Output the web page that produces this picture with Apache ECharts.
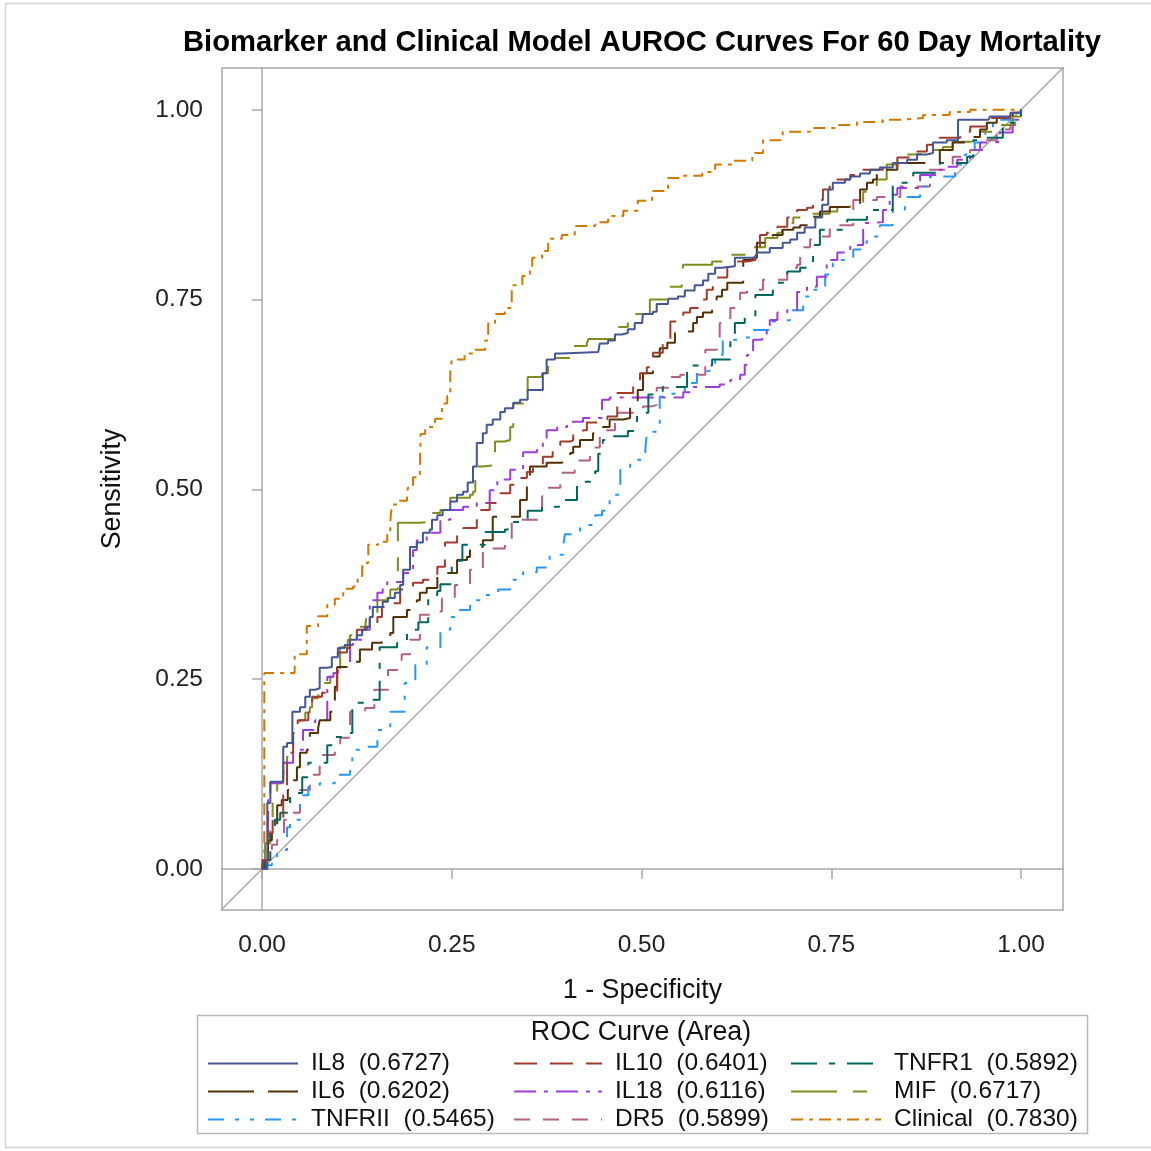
<!DOCTYPE html>
<html>
<head>
<meta charset="utf-8">
<script src="https://cdn.jsdelivr.net/npm/echarts@6/dist/echarts.min.js"></script>
<style>html,body{margin:0;padding:0;background:#fff}#c{width:1151px;height:1151px}</style>
</head>
<body>
<div id="c"></div>
<script>
// ---- data (1 - specificity, sensitivity) ----
const il8 = [[0,0],[0.007,0.087],[0.011,0.115],[0.020,0.115],[0.028,0.161],[0.033,0.166],[0.040,0.207],[0.050,0.213],[0.057,0.227],[0.063,0.236],[0.070,0.238],[0.076,0.265],[0.086,0.266],[0.092,0.279],[0.100,0.291],[0.109,0.295],[0.116,0.302],[0.125,0.308],[0.132,0.315],[0.138,0.319],[0.142,0.332],[0.146,0.345],[0.159,0.352],[0.166,0.357],[0.175,0.364],[0.182,0.374],[0.186,0.394],[0.195,0.424],[0.204,0.430],[0.212,0.443],[0.221,0.447],[0.224,0.460],[0.231,0.466],[0.238,0.473],[0.248,0.484],[0.257,0.493],[0.265,0.497],[0.271,0.509],[0.278,0.530],[0.283,0.561],[0.291,0.574],[0.296,0.585],[0.304,0.592],[0.314,0.602],[0.320,0.607],[0.331,0.614],[0.340,0.618],[0.350,0.631],[0.370,0.653],[0.375,0.671],[0.386,0.679],[0.395,0.681],[0.443,0.681],[0.445,0.692],[0.456,0.696],[0.465,0.704],[0.474,0.706],[0.482,0.711],[0.491,0.719],[0.501,0.723],[0.502,0.731],[0.515,0.734],[0.520,0.744],[0.535,0.751],[0.548,0.754],[0.557,0.762],[0.570,0.769],[0.581,0.775],[0.588,0.784],[0.597,0.792],[0.606,0.794],[0.623,0.805],[0.650,0.805],[0.652,0.812],[0.669,0.818],[0.686,0.825],[0.696,0.829],[0.705,0.838],[0.715,0.845],[0.729,0.858],[0.738,0.875],[0.746,0.895],[0.752,0.904],[0.768,0.908],[0.775,0.912],[0.788,0.916],[0.801,0.921],[0.814,0.924],[0.831,0.930],[0.850,0.934],[0.863,0.941],[0.876,0.943],[0.884,0.957],[0.902,0.960],[0.917,0.987],[0.957,0.987],[0.959,0.991],[0.972,0.991],[0.986,0.996],[1,1]];
const il10 = [[0,0],[0.001,0.012],[0.008,0.047],[0.014,0.065],[0.028,0.108],[0.033,0.153],[0.041,0.183],[0.047,0.196],[0.061,0.206],[0.066,0.227],[0.079,0.232],[0.099,0.262],[0.100,0.285],[0.112,0.291],[0.116,0.302],[0.125,0.315],[0.136,0.319],[0.152,0.332],[0.158,0.345],[0.169,0.350],[0.182,0.368],[0.199,0.377],[0.212,0.381],[0.231,0.398],[0.241,0.430],[0.257,0.440],[0.265,0.449],[0.283,0.473],[0.300,0.482],[0.314,0.495],[0.327,0.506],[0.337,0.515],[0.349,0.523],[0.357,0.530],[0.370,0.543],[0.383,0.556],[0.393,0.563],[0.406,0.565],[0.410,0.574],[0.423,0.578],[0.428,0.588],[0.445,0.592],[0.455,0.596],[0.468,0.627],[0.489,0.640],[0.498,0.653],[0.507,0.661],[0.515,0.680],[0.528,0.693],[0.538,0.721],[0.555,0.733],[0.564,0.739],[0.577,0.750],[0.586,0.763],[0.594,0.769],[0.599,0.779],[0.613,0.793],[0.626,0.800],[0.639,0.802],[0.650,0.812],[0.656,0.835],[0.665,0.838],[0.679,0.846],[0.692,0.858],[0.705,0.868],[0.718,0.871],[0.726,0.881],[0.739,0.895],[0.748,0.908],[0.775,0.914],[0.792,0.921],[0.818,0.925],[0.837,0.937],[0.854,0.945],[0.876,0.954],[0.893,0.963],[0.920,0.971],[0.933,0.978],[0.959,0.989],[0.986,0.996],[1,1]];
const tnfr1 = [[0,0],[0.004,0.012],[0.011,0.051],[0.017,0.065],[0.024,0.074],[0.037,0.100],[0.053,0.121],[0.061,0.140],[0.086,0.163],[0.096,0.174],[0.109,0.179],[0.119,0.219],[0.140,0.223],[0.155,0.253],[0.155,0.292],[0.178,0.298],[0.191,0.315],[0.206,0.325],[0.219,0.361],[0.231,0.366],[0.235,0.375],[0.250,0.406],[0.264,0.427],[0.294,0.444],[0.320,0.447],[0.327,0.457],[0.350,0.472],[0.369,0.477],[0.395,0.486],[0.415,0.507],[0.423,0.510],[0.439,0.524],[0.443,0.547],[0.449,0.565],[0.462,0.570],[0.482,0.577],[0.494,0.601],[0.509,0.625],[0.520,0.628],[0.528,0.635],[0.560,0.663],[0.593,0.671],[0.617,0.697],[0.623,0.719],[0.636,0.727],[0.650,0.756],[0.673,0.772],[0.692,0.787],[0.709,0.792],[0.726,0.822],[0.735,0.842],[0.771,0.855],[0.797,0.868],[0.831,0.904],[0.858,0.917],[0.893,0.930],[0.929,0.938],[0.937,0.960],[0.950,0.963],[0.976,0.983],[1,1]];
const il6 = [[0,0],[0.003,0.012],[0.008,0.038],[0.013,0.051],[0.020,0.084],[0.026,0.091],[0.034,0.104],[0.041,0.117],[0.046,0.134],[0.050,0.153],[0.059,0.157],[0.063,0.179],[0.074,0.186],[0.076,0.196],[0.090,0.207],[0.096,0.240],[0.099,0.266],[0.120,0.273],[0.129,0.289],[0.145,0.298],[0.158,0.304],[0.169,0.311],[0.173,0.332],[0.191,0.341],[0.204,0.354],[0.208,0.364],[0.217,0.370],[0.231,0.390],[0.244,0.390],[0.257,0.407],[0.270,0.411],[0.274,0.424],[0.291,0.433],[0.304,0.464],[0.340,0.466],[0.340,0.486],[0.349,0.503],[0.353,0.530],[0.375,0.535],[0.393,0.536],[0.406,0.548],[0.410,0.556],[0.419,0.565],[0.436,0.574],[0.445,0.582],[0.458,0.592],[0.476,0.594],[0.485,0.609],[0.495,0.631],[0.502,0.653],[0.515,0.675],[0.524,0.686],[0.534,0.693],[0.544,0.708],[0.568,0.719],[0.573,0.727],[0.581,0.733],[0.593,0.740],[0.599,0.754],[0.606,0.763],[0.613,0.772],[0.634,0.802],[0.647,0.805],[0.652,0.825],[0.673,0.835],[0.686,0.842],[0.700,0.845],[0.709,0.848],[0.722,0.859],[0.735,0.866],[0.748,0.872],[0.788,0.895],[0.797,0.904],[0.805,0.908],[0.810,0.921],[0.837,0.930],[0.876,0.930],[0.893,0.947],[0.910,0.957],[0.929,0.964],[0.946,0.974],[0.955,0.983],[0.968,0.989],[0.989,0.996],[1,1]];
const il18 = [[0,0],[0.004,0.012],[0.008,0.091],[0.011,0.113],[0.024,0.115],[0.028,0.140],[0.041,0.157],[0.054,0.163],[0.054,0.183],[0.070,0.196],[0.086,0.253],[0.094,0.258],[0.100,0.266],[0.116,0.295],[0.120,0.302],[0.132,0.315],[0.142,0.354],[0.152,0.364],[0.159,0.372],[0.165,0.378],[0.186,0.390],[0.199,0.391],[0.199,0.420],[0.204,0.433],[0.217,0.443],[0.235,0.460],[0.248,0.473],[0.265,0.477],[0.283,0.482],[0.300,0.499],[0.310,0.513],[0.327,0.526],[0.344,0.549],[0.362,0.552],[0.370,0.565],[0.375,0.578],[0.389,0.582],[0.402,0.589],[0.423,0.594],[0.448,0.618],[0.458,0.621],[0.507,0.621],[0.555,0.628],[0.568,0.635],[0.603,0.638],[0.617,0.644],[0.630,0.651],[0.636,0.664],[0.639,0.677],[0.647,0.697],[0.659,0.701],[0.665,0.714],[0.669,0.723],[0.679,0.733],[0.692,0.736],[0.705,0.760],[0.718,0.767],[0.731,0.780],[0.744,0.802],[0.758,0.812],[0.775,0.822],[0.792,0.851],[0.801,0.852],[0.818,0.868],[0.827,0.888],[0.837,0.897],[0.867,0.914],[0.893,0.921],[0.902,0.925],[0.916,0.934],[0.933,0.947],[0.946,0.957],[0.963,0.958],[0.972,0.970],[0.989,0.987],[1,1]];
const mif = [[0,0],[0.001,0.012],[0.004,0.034],[0.011,0.065],[0.014,0.087],[0.020,0.113],[0.028,0.140],[0.033,0.148],[0.041,0.179],[0.050,0.196],[0.057,0.206],[0.063,0.213],[0.066,0.225],[0.074,0.225],[0.076,0.245],[0.090,0.262],[0.103,0.292],[0.113,0.302],[0.116,0.308],[0.126,0.319],[0.136,0.319],[0.138,0.337],[0.152,0.354],[0.165,0.357],[0.169,0.368],[0.179,0.433],[0.179,0.456],[0.208,0.457],[0.221,0.469],[0.235,0.473],[0.248,0.489],[0.274,0.493],[0.278,0.497],[0.281,0.530],[0.291,0.532],[0.307,0.547],[0.307,0.563],[0.320,0.565],[0.327,0.582],[0.331,0.613],[0.350,0.648],[0.369,0.653],[0.377,0.673],[0.399,0.673],[0.408,0.689],[0.428,0.692],[0.430,0.698],[0.461,0.698],[0.468,0.714],[0.476,0.714],[0.482,0.731],[0.507,0.731],[0.511,0.750],[0.520,0.750],[0.535,0.767],[0.553,0.783],[0.555,0.796],[0.593,0.800],[0.613,0.809],[0.623,0.809],[0.639,0.819],[0.652,0.819],[0.663,0.831],[0.679,0.838],[0.685,0.851],[0.700,0.858],[0.722,0.863],[0.748,0.866],[0.758,0.872],[0.775,0.877],[0.792,0.892],[0.810,0.908],[0.823,0.928],[0.837,0.931],[0.850,0.941],[0.858,0.943],[0.884,0.947],[0.897,0.951],[0.910,0.958],[0.937,0.964],[0.946,0.971],[0.963,0.980],[0.989,0.991],[1,1]];
const tnfr2 = [[0,0],[0.005,0.005],[0.013,0.009],[0.020,0.025],[0.033,0.055],[0.037,0.065],[0.050,0.097],[0.061,0.108],[0.076,0.113],[0.096,0.124],[0.116,0.130],[0.119,0.157],[0.129,0.161],[0.152,0.183],[0.169,0.207],[0.188,0.236],[0.188,0.245],[0.202,0.269],[0.217,0.292],[0.235,0.315],[0.248,0.332],[0.254,0.341],[0.274,0.354],[0.294,0.361],[0.311,0.368],[0.327,0.381],[0.344,0.391],[0.362,0.397],[0.379,0.414],[0.397,0.427],[0.399,0.441],[0.419,0.453],[0.439,0.466],[0.448,0.472],[0.458,0.493],[0.472,0.509],[0.472,0.526],[0.485,0.539],[0.505,0.552],[0.507,0.576],[0.524,0.622],[0.540,0.626],[0.557,0.640],[0.573,0.655],[0.581,0.657],[0.597,0.677],[0.607,0.697],[0.626,0.700],[0.643,0.710],[0.673,0.721],[0.682,0.723],[0.696,0.736],[0.713,0.754],[0.726,0.763],[0.742,0.783],[0.752,0.798],[0.762,0.802],[0.779,0.816],[0.792,0.825],[0.797,0.833],[0.814,0.848],[0.831,0.868],[0.847,0.885],[0.867,0.899],[0.880,0.912],[0.897,0.912],[0.913,0.928],[0.926,0.941],[0.939,0.957],[0.953,0.974],[0.963,0.987],[0.989,0.987],[1,1]];
const dr5 = [[0,0],[0.005,0.012],[0.013,0.032],[0.020,0.041],[0.029,0.065],[0.037,0.074],[0.050,0.104],[0.063,0.124],[0.076,0.150],[0.096,0.163],[0.103,0.173],[0.116,0.207],[0.136,0.212],[0.148,0.236],[0.166,0.245],[0.166,0.262],[0.184,0.283],[0.195,0.302],[0.208,0.335],[0.221,0.339],[0.237,0.356],[0.254,0.374],[0.274,0.394],[0.291,0.422],[0.320,0.431],[0.329,0.457],[0.340,0.460],[0.369,0.491],[0.373,0.502],[0.393,0.522],[0.412,0.538],[0.432,0.555],[0.445,0.578],[0.465,0.601],[0.489,0.602],[0.502,0.609],[0.511,0.611],[0.520,0.634],[0.538,0.648],[0.551,0.651],[0.584,0.684],[0.599,0.686],[0.603,0.719],[0.617,0.739],[0.630,0.759],[0.639,0.763],[0.660,0.776],[0.692,0.792],[0.705,0.796],[0.709,0.819],[0.722,0.829],[0.735,0.833],[0.748,0.848],[0.779,0.881],[0.810,0.885],[0.841,0.899],[0.880,0.921],[0.910,0.938],[0.933,0.947],[0.955,0.960],[0.968,0.974],[0.986,0.980],[1,1]];
const clinical = [[0,0],[0.003,0.258],[0.040,0.258],[0.043,0.283],[0.059,0.320],[0.074,0.333],[0.086,0.348],[0.096,0.356],[0.107,0.369],[0.120,0.372],[0.126,0.386],[0.132,0.403],[0.140,0.427],[0.153,0.431],[0.165,0.441],[0.169,0.457],[0.171,0.480],[0.179,0.485],[0.191,0.487],[0.192,0.502],[0.199,0.516],[0.208,0.527],[0.209,0.573],[0.215,0.582],[0.228,0.593],[0.237,0.613],[0.244,0.623],[0.248,0.653],[0.250,0.671],[0.267,0.679],[0.281,0.684],[0.294,0.696],[0.298,0.719],[0.307,0.731],[0.320,0.739],[0.329,0.769],[0.343,0.781],[0.353,0.789],[0.356,0.805],[0.369,0.814],[0.377,0.830],[0.395,0.835],[0.412,0.847],[0.439,0.852],[0.456,0.860],[0.476,0.867],[0.495,0.880],[0.514,0.893],[0.535,0.910],[0.553,0.913],[0.580,0.918],[0.597,0.928],[0.619,0.933],[0.646,0.943],[0.660,0.960],[0.686,0.971],[0.722,0.976],[0.758,0.980],[0.784,0.984],[0.818,0.987],[0.845,0.989],[0.871,0.993],[0.906,0.997],[0.933,1.000],[1,1]];
const refLine = [[-0.1,-0.1],[1.1,1.1]];

const curveNames = ['IL8','IL10','TNFR1','IL6','IL18','MIF','TNFRII','DR5','Clinical'];
const curveAreas = ['0.6727','0.6401','0.5892','0.6202','0.6116','0.6717','0.5465','0.5899','0.7830'];
const curveData = [il8, il10, tnfr1, il6, il18, mif, tnfr2, dr5, clinical];
const tickValues = [0, 0.25, 0.5, 0.75, 1];

const colors = ['#445694','#A23A2E','#01665E','#543005','#9D3CDB','#7F8E1F','#2597FA','#B26084','#D17800'];
const dashes = [
  'solid',
  [23,13],
  [26,12,6,12],
  [46,14],
  [22,8,4,8],
  [46,16,14,16],
  [16,11,4,11,4,11],
  [16,13],
  [12,6,4,6]
];

const FONT = '"Liberation Sans", Arial, Helvetica, sans-serif';
const labelOf = i => curveNames[i] + '  (' + curveAreas[i] + ')';

const series = curveData.map((d, i) => ({
  name: labelOf(i),
  type: 'line',
  data: d,
  step: 'end',
  symbol: 'none',
  z: 3 + (8 - i) * 0.01,
  lineStyle: { color: colors[i], width: 2, type: dashes[i] },
  itemStyle: { color: colors[i] },
  emphasis: { disabled: true },
  animation: false
}));
series.push({
  name: 'ref', type: 'line', data: refLine, symbol: 'none', silent: true,
  lineStyle: { color: '#A8A8A8', width: 1.5 }, z: 2, animation: false
});

function legendCol(left, idx, w) {
  return {
    orient: 'vertical', left: left, top: 1051, padding: 0,
    itemWidth: w, itemHeight: 24, itemGap: 3,
    selectedMode: false,
    itemStyle: { color: 'rgba(0,0,0,0)', borderColor: 'rgba(0,0,0,0)', borderWidth: 0 },
    data: idx.map(i => labelOf(i)),
    textStyle: { fontFamily: FONT, fontSize: 24.5, color: '#111', lineHeight: 24, padding: [0,0,0,8] }
  };
}

const chart = echarts.init(document.getElementById('c'), null, { renderer: 'canvas' });
chart.setOption({
  backgroundColor: '#fff',
  animation: false,
  title: {
    text: 'Biomarker and Clinical Model AUROC Curves For 60 Day Mortality',
    left: 637, top: 23, textAlign: 'center',
    textStyle: { fontFamily: FONT, fontSize: 29.2, fontWeight: 'bold', color: '#000' }
  },
  grid: {
    left: 222, top: 68, width: 841, height: 842,
    show: true, borderColor: '#A8A8A8', borderWidth: 1.5,
    outerBoundsMode: 'none', containLabel: false
  },
  xAxis: {
    type: 'value', min: -0.0527, max: 1.0553,
    name: '1 - Specificity', nameLocation: 'middle', nameGap: 67,
    nameTextStyle: { fontFamily: FONT, fontSize: 26.8, color: '#111' },
    axisLine: { show: true, lineStyle: { color: '#A8A8A8', width: 1.5 } },
    axisTick: { show: true, customValues: tickValues, length: 10, lineStyle: { color: '#A8A8A8', width: 1.5 } },
    axisLabel: { customValues: tickValues, margin: 23, fontFamily: FONT, fontSize: 24.5, color: '#222',
      formatter: v => v.toFixed(2) },
    splitLine: { show: false }
  },
  yAxis: {
    type: 'value', min: -0.054, max: 1.055,
    name: 'Sensitivity', nameLocation: 'middle', nameGap: 96, nameRotate: 90,
    nameTextStyle: { fontFamily: FONT, fontSize: 26.8, color: '#111' },
    axisLine: { show: true, lineStyle: { color: '#A8A8A8', width: 1.5 } },
    axisTick: { show: true, customValues: tickValues, length: 10, lineStyle: { color: '#A8A8A8', width: 1.5 } },
    axisLabel: { customValues: tickValues, margin: 19, fontFamily: FONT, fontSize: 24.5, color: '#222',
      formatter: v => v.toFixed(2) },
    splitLine: { show: false }
  },
  legend: [
    legendCol(207, [0, 3, 6], 90),
    legendCol(513, [1, 4, 7], 88),
    legendCol(790, [2, 5, 8], 90)
  ],
  graphic: [
    { type: 'rect', silent: true, z: -1,
      shape: { x: 5.5, y: 3.5, width: 1200, height: 1144 },
      style: { fill: null, stroke: '#D4D4D4', lineWidth: 1.5 } },
    { type: 'rect', silent: true,
      shape: { x: 197.5, y: 1015.5, width: 890, height: 118 },
      style: { fill: null, stroke: '#B8B8B8', lineWidth: 1.5 } },
    { type: 'text', silent: true, x: 641, y: 1033,
      style: { text: 'ROC Curve (Area)', fontFamily: FONT, fontSize: 26.8, fill: '#111',
        textAlign: 'center', textVerticalAlign: 'middle' } }
  ],
  series: series
});
</script>
</body>
</html>
